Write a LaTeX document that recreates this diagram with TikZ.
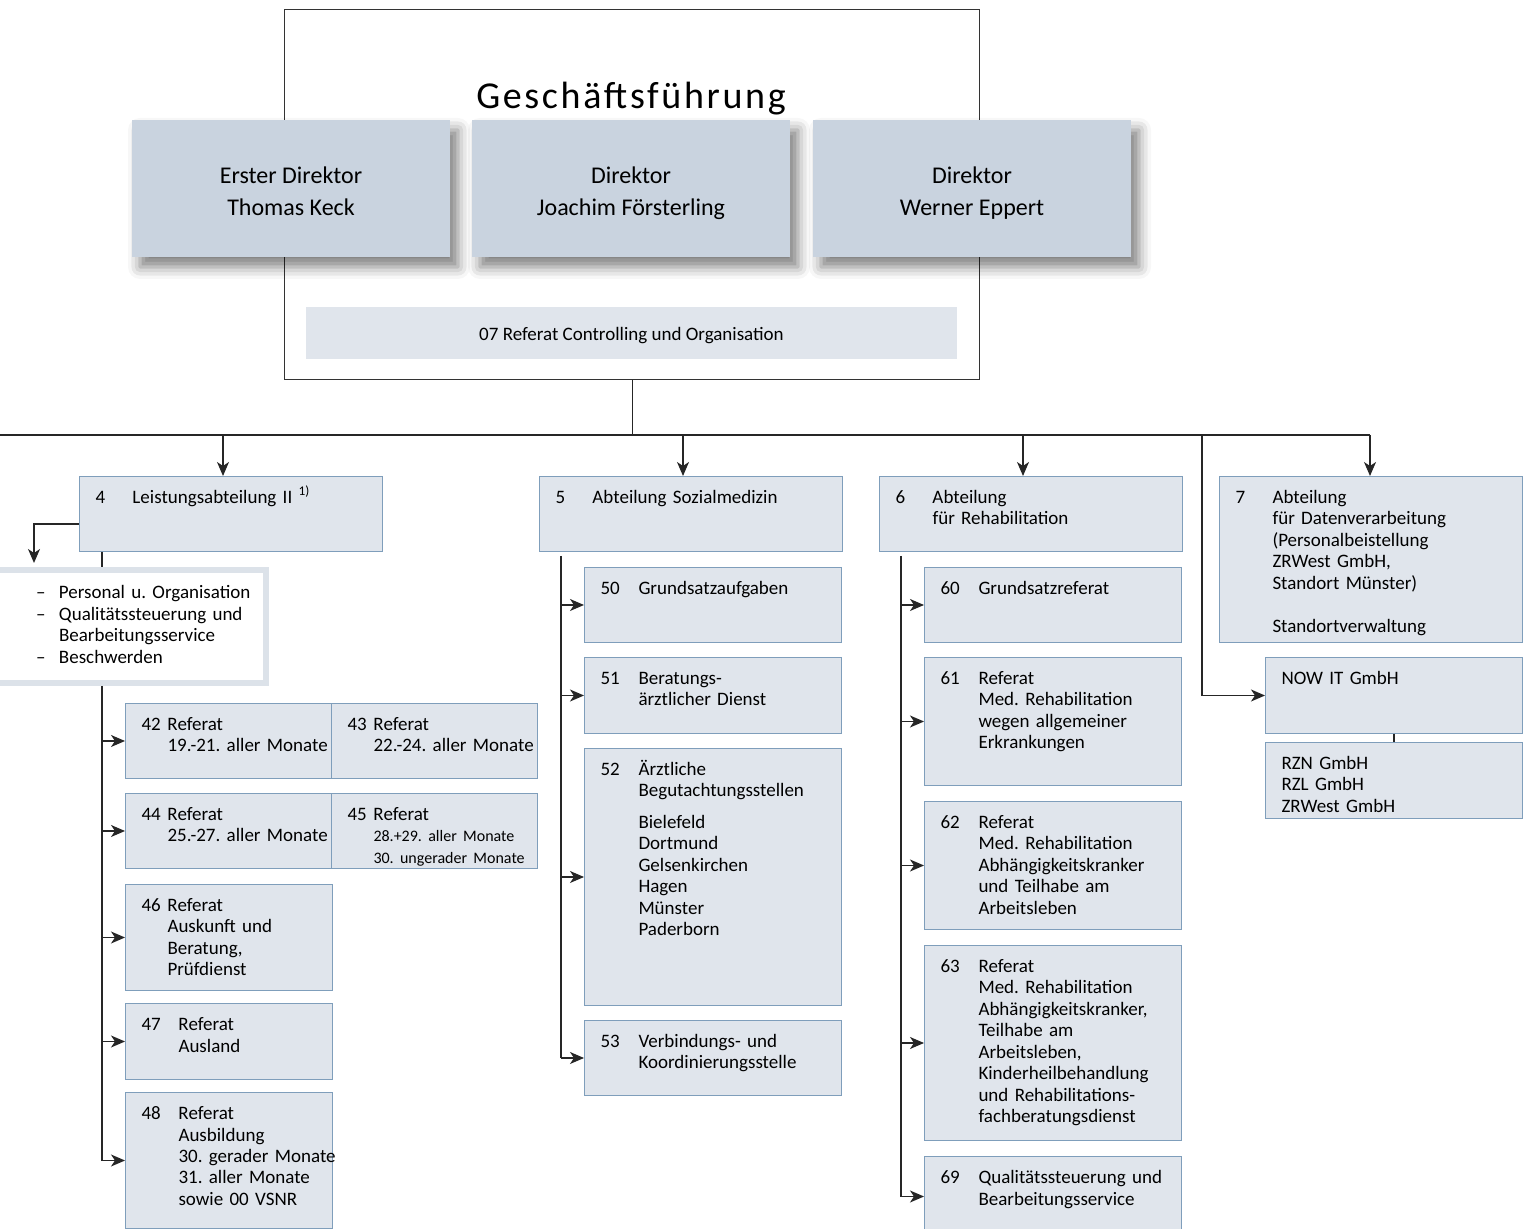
\documentclass[tikz,border=0pt]{standalone}
\usepackage{fontspec}
\setmainfont{Carlito}
\newfontfamily\titlefont[LetterSpace=7]{Carlito}
\usetikzlibrary{arrows.meta,shadows.blur}
\frenchspacing

\definecolor{dirfill}{HTML}{C9D3DF}
\definecolor{unitfill}{HTML}{E0E5EC}
\definecolor{unitline}{HTML}{7F9EBB}
\definecolor{notegray}{HTML}{DCE2E9}

\newcommand\unitfont{\fontsize{9.5}{10.75}\selectfont}
\newcommand\smallunit{\fontsize{8}{10.75}\selectfont}
\newcommand\dirfont{\fontsize{12}{16}\selectfont}
\newcommand\unum[3][19pt]{\begin{tabular}[t]{@{}p{#1}@{}l@{}}#2&\begin{tabular}[t]{@{}l@{}}#3\end{tabular}\end{tabular}}

\tikzset{
  dirbox/.style={fill=dirfill, minimum width=159pt, minimum height=68.5pt, align=center, font=\dirfont,
    text height=30pt, text depth=2.5pt,
    blur shadow={shadow xshift=4pt, shadow yshift=-5pt, shadow blur radius=6pt, shadow opacity=50}},
  unitbox/.style={draw=unitline, line width=0.5pt, fill=unitfill, anchor=north west, align=left,
    inner xsep=8pt, inner ysep=6pt, text height=7.5pt, font=\unitfont},
  conn/.style={draw=black!85, line width=0.7pt},
  arr/.style={conn, -{Stealth[length=7pt,width=6pt,inset=2pt]}}
}

\begin{document}
\begin{tikzpicture}[x=0.5pt,y=-0.5pt]
\useasboundingbox (0,0) rectangle (1528,1229);

\node[draw=black!80, line width=0.7pt, minimum width=347.5pt, minimum height=185pt, anchor=north west, inner sep=0pt] (gf) at (284,9) {};
\node[font=\titlefont\fontsize{19}{22}\selectfont, anchor=base] (gftitle) at (631,109) {Geschäftsführung};
\node[dirbox] (dir1) at (291,188.5) {Erster Direktor\\Thomas Keck};
\node[dirbox] (dir2) at (631,188.5) {Direktor\\Joachim Försterling};
\node[dirbox] (dir3) at (972,188.5) {Direktor\\Werner Eppert};
\node[fill=unitfill, minimum width=325.5pt, minimum height=26pt, text height=10pt, text depth=2pt, font=\unitfont] (ref07) at (631.5,333) {07 Referat Controlling und Organisation};

\node[unitbox, text width=135.5pt, text depth=18pt] (a4) at (79,476) {\unum[18.5pt]{4}{Leistungsabteilung II \textsuperscript{1)}}};
\node[unitbox, text width=135.5pt, text depth=18pt] (a5) at (539,476) {\unum[18.5pt]{5}{Abteilung Sozialmedizin}};
\node[unitbox, text width=135.5pt, text depth=18pt] (a6) at (879,476) {\unum[18.5pt]{6}{Abteilung\\für Rehabilitation}};
\node[unitbox, text width=135.5pt, text depth=63.5pt] (a7) at (1219,476) {\unum[18.5pt]{7}{Abteilung\\für Datenverarbeitung\\(Personalbeistellung\\ZRWest GmbH,\\Standort Münster)\\ \\Standortverwaltung}};

\node[draw=notegray, line width=3pt, fill=white, anchor=north west, align=left, inner xsep=21.5pt, inner ysep=7pt,
  text height=7.5pt, text depth=35pt, text width=93.5pt, font=\unitfont] (st4) at (-10,567)
  {\begin{tabular}[t]{@{}p{11.5pt}@{}l@{}}–&Personal u. Organisation\\–&Qualitätssteuerung und\\&Bearbeitungsservice\\–&Beschwerden\end{tabular}};

\node[unitbox, text width=87pt, text depth=18pt] (r42) at (125,703) {\unum[13pt]{42}{Referat\\19.-21. aller Monate}};
\node[unitbox, text width=87pt, text depth=18pt] (r43) at (331,703) {\unum[13pt]{43}{Referat\\22.-24. aller Monate}};
\node[unitbox, text width=87pt, text depth=18pt] (r44) at (125,793) {\unum[13pt]{44}{Referat\\25.-27. aller Monate}};
\node[unitbox, text width=87pt, text depth=18pt] (r45) at (331,793) {\unum[13pt]{45}{Referat\\{\smallunit 28.+29. aller Monate}\\{\smallunit 30. ungerader Monate}}};
\node[unitbox, text width=87.5pt, text depth=33.5pt] (r46) at (125,884) {\unum[13pt]{46}{Referat\\Auskunft und\\Beratung,\\Prüfdienst}};
\node[unitbox, text width=87.5pt, text depth=18.5pt] (r47) at (125,1003) {\unum[18.5pt]{47}{Referat\\Ausland}};
\node[unitbox, text width=87.5pt, text depth=48.5pt] (r48) at (125,1092) {\unum[18.5pt]{48}{Referat\\Ausbildung\\30. gerader Monate\\31. aller Monate\\sowie 00 VSNR}};

\node[unitbox, text width=112.5pt, text depth=18pt] (r50) at (584,567) {\unum{50}{Grundsatzaufgaben}};
\node[unitbox, text width=112.5pt, text depth=18.5pt] (r51) at (584,657) {\unum{51}{Beratungs-\\ärztlicher Dienst}};
\node[unitbox, text width=112.5pt, text depth=109pt] (r52) at (584,748) {\unum{52}{Ärztliche\\Begutachtungsstellen\\[5pt]Bielefeld\\Dortmund\\Gelsenkirchen\\Hagen\\Münster\\Paderborn}};
\node[unitbox, text width=112.5pt, text depth=18pt] (r53) at (584,1020) {\unum{53}{Verbindungs- und\\Koordinierungsstelle}};

\node[unitbox, text width=112.5pt, text depth=18pt] (r60) at (924,567) {\unum{60}{Grundsatzreferat}};
\node[unitbox, text width=112.5pt, text depth=44.5pt] (r61) at (924,657) {\unum{61}{Referat\\Med. Rehabilitation\\wegen allgemeiner\\Erkrankungen}};
\node[unitbox, text width=112.5pt, text depth=44.5pt] (r62) at (924,801) {\unum{62}{Referat\\Med. Rehabilitation\\Abhängigkeitskranker\\und Teilhabe am\\Arbeitsleben}};
\node[unitbox, text width=112.5pt, text depth=78pt] (r63) at (924,945) {\unum{63}{Referat\\Med. Rehabilitation\\Abhängigkeitskranker,\\Teilhabe am\\Arbeitsleben,\\Kinderheilbehandlung\\und Rehabilitations-\\fachberatungsdienst}};
\node[unitbox, text width=112.5pt, text depth=20.5pt] (r69) at (924,1156) {\unum{69}{Qualitätssteuerung und\\Bearbeitungsservice}};

\node[unitbox, text width=112.5pt, text depth=18.5pt] (nowit) at (1265,657) {NOW IT GmbH};
\node[unitbox, text width=112.5pt, text depth=18.5pt] (rzn) at (1265,742) {\begin{tabular}[t]{@{}l@{}}RZN GmbH\\RZL GmbH\\ZRWest GmbH\end{tabular}};

\coordinate (busL) at (0,435);
\coordinate (busR) at (1370,435);
\coordinate (bus7) at (1202,435);
\draw[conn] (gf.south) -- (gf.south |- busL);
\draw[conn] (busL) -- (busR);
\draw[arr] ([xshift=-4pt]a4.north |- busL) -- ([xshift=-4pt]a4.north);
\draw[arr] ([xshift=-4pt]a5.north |- busL) -- ([xshift=-4pt]a5.north);
\draw[arr] ([xshift=-4pt]a6.north |- busL) -- ([xshift=-4pt]a6.north);
\draw[arr] (busR) -- (busR |- a7.north);
\draw[arr] (bus7) |- (nowit.west);
\draw[conn] (nowit.south) -- (rzn.north);

\draw[arr] ([yshift=-5pt]a4.west) -| ([xshift=22pt,yshift=2pt]st4.north west);
\coordinate (t4) at ([xshift=11.5pt]a4.south west);
\draw[conn] (t4) -- (t4 |- st4.north);
\draw[conn] (t4 |- st4.south) -- (t4 |- r48.west);
\foreach \r in {r42,r44,r46,r47,r48}
  \draw[arr] (t4 |- \r.west) -- (\r.west);

\coordinate (t5) at ([xshift=11pt,yshift=-2pt]a5.south west);
\draw[conn] (t5) -- (t5 |- r53.west);
\foreach \r in {r50,r51,r52,r53}
  \draw[arr] (t5 |- \r.west) -- (\r.west);

\coordinate (t6) at ([xshift=11pt,yshift=-2pt]a6.south west);
\draw[conn] (t6) -- (t6 |- r69.west);
\foreach \r in {r60,r61,r62,r63,r69}
  \draw[arr] (t6 |- \r.west) -- (\r.west);
\end{tikzpicture}
\end{document}
